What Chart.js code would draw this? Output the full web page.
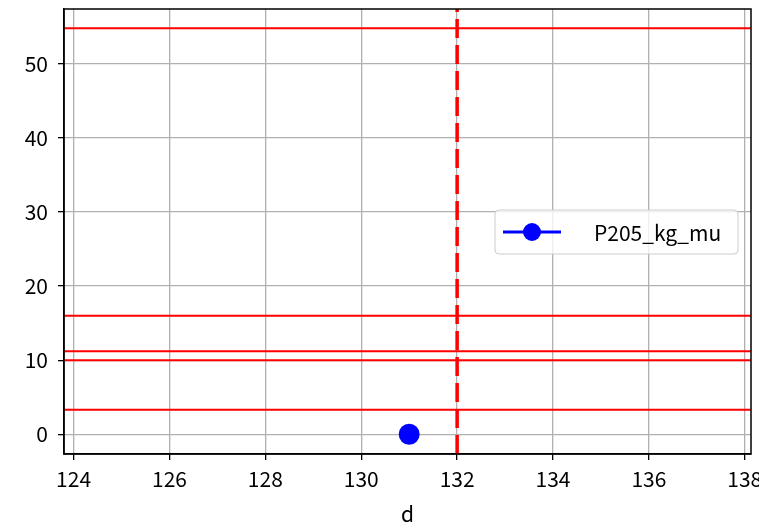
<!DOCTYPE html>
<html>
<head>
<meta charset="utf-8">
<script src="https://cdn.jsdelivr.net/npm/chart.js@4/dist/chart.umd.min.js"></script>
<style>
  body { margin: 0; background: #fff; }
  #wrap { width: 759px; height: 524px; }
</style>
</head>
<body>
<div id="wrap"><canvas id="myChart" width="759" height="524"></canvas></div>
<script>
const seriesLabel = "P205_kg_mu";
const pointX = [131];
const pointY = [0];
const hLines = [54.8, 16, 11.2, 10, 3.3];
const vLine = 132;
const xTicks = [124, 126, 128, 130, 132, 134, 136, 138];
const yTicks = [0, 10, 20, 30, 40, 50];
const xMin = 123.8, xMax = 138.13;
const yMin = -2.66, yMax = 57.4;

const FONT = "'Noto Sans CJK JP', 'DejaVu Sans', sans-serif";
const FS = 21;

let datasets = [];
hLines.forEach((v) => {
  datasets.push({
    data: [{ x: xMin, y: v }, { x: xMax, y: v }],
    borderColor: "#ff0000",
    borderWidth: 2,
    pointRadius: 0,
    showLine: true
  });
});
datasets.push({
  data: [{ x: vLine, y: yMin }, { x: vLine, y: yMax }],
  borderColor: "#ff0000",
  borderWidth: 3.5,
  borderDash: [19, 7],
  pointRadius: 0,
  showLine: true
});
datasets.push({
  label: seriesLabel,
  data: pointX.map((x, i) => ({ x: x, y: pointY[i] })),
  borderColor: "#0000ff",
  backgroundColor: "#0000ff",
  borderWidth: 3,
  pointRadius: 9,
  showLine: true
});

const frame = {
  id: "frame",
  afterDraw(chart) {
    const ctx = chart.ctx;
    const a = chart.chartArea;
    ctx.save();
    ctx.strokeStyle = "#000";
    ctx.lineWidth = 1.5;
    ctx.strokeRect(a.left, a.top, a.right - a.left, a.bottom - a.top);

    // legend box (center right)
    const bx = 495, by = 210, bw = 243, bh = 44;
    ctx.fillStyle = "rgba(255,255,255,0.8)";
    ctx.strokeStyle = "#cccccc";
    ctx.lineWidth = 1;
    ctx.beginPath();
    ctx.roundRect(bx, by, bw, bh, 4);
    ctx.fill();
    ctx.stroke();
    const ly = by + bh / 2;
    ctx.strokeStyle = "#0000ff";
    ctx.lineWidth = 3;
    ctx.beginPath();
    ctx.moveTo(503, ly);
    ctx.lineTo(561, ly);
    ctx.stroke();
    ctx.fillStyle = "#0000ff";
    ctx.beginPath();
    ctx.arc(532, ly, 9, 0, Math.PI * 2);
    ctx.fill();
    ctx.fillStyle = "#000";
    ctx.font = FS + "px " + FONT;
    ctx.textAlign = "left";
    ctx.textBaseline = "middle";
    ctx.fillText(seriesLabel, 594, ly + 1);
    ctx.restore();
  }
};

new Chart(document.getElementById("myChart"), {
  type: "scatter",
  data: { datasets: datasets },
  options: {
    responsive: false,
    animation: false,
    layout: { autoPadding: false, padding: { top: 9, right: 8, left: 0, bottom: 0 } },
    plugins: {
      legend: { display: false },
      tooltip: { enabled: false }
    },
    scales: {
      x: {
        type: "linear",
        min: xMin,
        max: xMax,
        afterBuildTicks: (s) => { s.ticks = xTicks.map((v) => ({ value: v })); },
        afterFit: (s) => {
          s.height = 70;
          s.paddingLeft = 0;
          s.paddingRight = 0;
        },
        ticks: {
          color: "#000",
          font: { family: FONT, size: FS },
          padding: 6,
          maxRotation: 0,
          autoSkip: false
        },
        grid: { color: "#b0b0b0", lineWidth: 1.3, tickColor: "#000", tickLength: 6 },
        border: { color: "#000", width: 1.5 },
        title: {
          display: true,
          text: "d",
          color: "#000",
          font: { family: FONT, size: FS },
          padding: { top: 0, bottom: -3 }
        }
      },
      y: {
        type: "linear",
        min: yMin,
        max: yMax,
        afterBuildTicks: (s) => { s.ticks = yTicks.map((v) => ({ value: v })); },
        afterFit: (s) => {
          s.width = 64;
          s.paddingTop = 0;
          s.paddingBottom = 0;
        },
        ticks: {
          color: "#000",
          font: { family: FONT, size: FS },
          padding: 10
        },
        grid: { color: "#b0b0b0", lineWidth: 1.3, tickColor: "#000", tickLength: 6 },
        border: { color: "#000", width: 1.5 }
      }
    }
  },
  plugins: [frame]
});
</script>
</body>
</html>
